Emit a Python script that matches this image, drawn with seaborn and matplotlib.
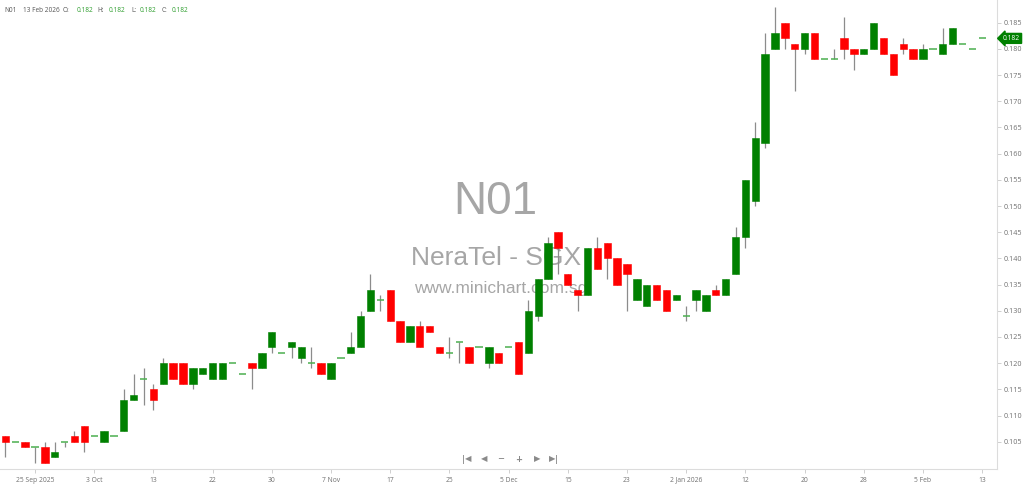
import numpy as np
import pandas as pd
import matplotlib
matplotlib.use("Agg")
import matplotlib.pyplot as plt
import matplotlib.transforms as mtransforms
import seaborn as sns

# ---------------- data ----------------
opens = [0.106, 0.105, 0.105, 0.104, 0.104, 0.102, 0.105, 0.106, 0.108, 0.106,
         0.105, 0.106, 0.107, 0.113, 0.117, 0.115, 0.116, 0.120, 0.120, 0.116,
         0.118, 0.117, 0.117, 0.120, 0.118, 0.120, 0.119, 0.123, 0.122, 0.123,
         0.121, 0.120, 0.120, 0.117, 0.121, 0.122, 0.123, 0.130, 0.132, 0.134,
         0.128, 0.124, 0.127, 0.127, 0.123, 0.122, 0.124, 0.123, 0.123, 0.120,
         0.122, 0.123, 0.124, 0.122, 0.129, 0.136, 0.145, 0.137, 0.134, 0.133,
         0.142, 0.143, 0.140, 0.139, 0.132, 0.131, 0.135, 0.134, 0.132, 0.129,
         0.132, 0.130, 0.134, 0.133, 0.137, 0.144, 0.151, 0.162, 0.180, 0.185,
         0.181, 0.180, 0.183, 0.178, 0.178, 0.182, 0.180, 0.179, 0.180, 0.182,
         0.179, 0.181, 0.180, 0.178, 0.180, 0.179, 0.181, 0.181, 0.180, 0.182]
closes = [0.105, 0.105, 0.104, 0.104, 0.101, 0.103, 0.105, 0.105, 0.105, 0.106,
          0.107, 0.106, 0.113, 0.114, 0.117, 0.113, 0.120, 0.117, 0.116, 0.119,
          0.119, 0.120, 0.120, 0.120, 0.118, 0.119, 0.122, 0.126, 0.122, 0.124,
          0.123, 0.120, 0.118, 0.120, 0.121, 0.123, 0.129, 0.134, 0.132, 0.128,
          0.124, 0.127, 0.123, 0.126, 0.122, 0.122, 0.124, 0.120, 0.123, 0.123,
          0.120, 0.123, 0.118, 0.130, 0.136, 0.143, 0.142, 0.135, 0.133, 0.142,
          0.138, 0.140, 0.135, 0.137, 0.136, 0.135, 0.132, 0.130, 0.133, 0.129,
          0.134, 0.133, 0.133, 0.136, 0.144, 0.155, 0.163, 0.179, 0.183, 0.182,
          0.180, 0.183, 0.178, 0.178, 0.178, 0.180, 0.179, 0.180, 0.185, 0.179,
          0.175, 0.180, 0.178, 0.180, 0.180, 0.181, 0.184, 0.181, 0.180, 0.182]
highs = [0.106, 0.105, 0.105, 0.104, 0.105, 0.105, 0.105, 0.107, 0.108, 0.106,
         0.107, 0.106, 0.115, 0.118, 0.119, 0.116, 0.121, 0.120, 0.120, 0.119,
         0.119, 0.120, 0.120, 0.120, 0.118, 0.120, 0.122, 0.126, 0.122, 0.124,
         0.123, 0.123, 0.120, 0.120, 0.121, 0.126, 0.130, 0.137, 0.133, 0.134,
         0.128, 0.127, 0.128, 0.127, 0.123, 0.125, 0.124, 0.123, 0.123, 0.123,
         0.122, 0.123, 0.124, 0.132, 0.136, 0.144, 0.145, 0.137, 0.134, 0.142,
         0.144, 0.143, 0.140, 0.139, 0.136, 0.135, 0.135, 0.134, 0.133, 0.131,
         0.134, 0.133, 0.135, 0.136, 0.146, 0.155, 0.166, 0.183, 0.188, 0.185,
         0.181, 0.183, 0.183, 0.178, 0.180, 0.186, 0.180, 0.180, 0.185, 0.182,
         0.179, 0.182, 0.180, 0.181, 0.180, 0.184, 0.184, 0.181, 0.180, 0.182]
lows = [0.102, 0.105, 0.104, 0.101, 0.101, 0.102, 0.104, 0.105, 0.103, 0.106,
        0.105, 0.106, 0.107, 0.113, 0.112, 0.111, 0.116, 0.117, 0.116, 0.115,
        0.118, 0.117, 0.117, 0.120, 0.118, 0.115, 0.119, 0.122, 0.122, 0.121,
        0.120, 0.119, 0.118, 0.117, 0.121, 0.122, 0.123, 0.130, 0.130, 0.128,
        0.124, 0.124, 0.123, 0.126, 0.122, 0.121, 0.120, 0.120, 0.123, 0.119,
        0.120, 0.123, 0.118, 0.122, 0.128, 0.136, 0.137, 0.135, 0.130, 0.133,
        0.138, 0.136, 0.135, 0.130, 0.132, 0.131, 0.132, 0.130, 0.132, 0.128,
        0.130, 0.130, 0.133, 0.133, 0.137, 0.142, 0.150, 0.161, 0.180, 0.180,
        0.172, 0.179, 0.178, 0.178, 0.178, 0.178, 0.176, 0.179, 0.180, 0.179,
        0.175, 0.179, 0.178, 0.178, 0.180, 0.179, 0.181, 0.181, 0.180, 0.182]

tick_bars = [3, 9, 15, 21, 27, 33, 39, 45, 51, 57, 63, 69, 75, 81, 87, 93, 99]
tick_labels = ["25 Sep 2025", "3 Oct", "13", "22", "30", "7 Nov", "17", "25",
               "5 Dec", "15", "23", "2 Jan 2026", "12", "20", "28", "5 Feb", "13"]
price_ticks = [0.105, 0.110, 0.115, 0.120, 0.125, 0.130, 0.135, 0.140, 0.145,
               0.150, 0.155, 0.160, 0.165, 0.170, 0.175, 0.180, 0.185]

# ---------------- style ----------------
sns.set_theme(style="white")
plt.rcParams['font.family'] = ['Open Sans', 'DejaVu Sans']

GREEN = '#008000'
RED = '#ff0000'
DOJI = '#4caf50'
WICK = '#8c8c8c'

df = pd.DataFrame({'o': opens, 'h': highs, 'l': lows, 'c': closes})
df['i'] = np.arange(len(df))
df['bottom'] = df[['o', 'c']].min(axis=1)
df['height'] = (df['c'] - df['o']).abs()
df['color'] = np.where(df['c'] >= df['o'], GREEN, RED)

W, H = 1024, 484
fig = plt.figure(figsize=(W / 100, H / 100), dpi=100)
ax = fig.add_axes([0, (H - 469) / H, 997 / W, 469 / H])

# wicks
ax.vlines(df['i'], df['l'], df['h'], color=WICK, lw=0.9, zorder=2)
# bodies
body = df[df['height'] > 1e-9]
ax.bar(body['i'], body['height'], bottom=body['bottom'], width=0.74,
       color=body['color'], edgecolor=body['color'], linewidth=0.4, zorder=3)
# doji dashes
doji = df[df['height'] <= 1e-9]
ax.hlines(doji['o'], doji['i'] - 0.37, doji['i'] + 0.37, color=DOJI, lw=1.1, zorder=3)

ax.set_xlim(-0.547, 100.5)
ax.set_ylim(0.09979, 0.18933)

# axes styling
for s in ['top', 'left']:
    ax.spines[s].set_visible(False)
ax.spines['right'].set_color('#dcdcdc')
ax.spines['bottom'].set_color('#dcdcdc')
ax.spines['right'].set_linewidth(0.8)
ax.spines['bottom'].set_linewidth(0.8)
ax.yaxis.tick_right()
ax.set_yticks(price_ticks)
ax.set_yticklabels([f"{p:.3f}" for p in price_ticks])
ax.set_xticks(tick_bars)
ax.set_xticklabels(tick_labels)
ax.tick_params(axis='y', which='both', right=True, direction='out', length=3,
               width=0.6, color='#c8c8c8', labelcolor='#707070', labelsize=5.2, pad=2)
ax.tick_params(axis='x', which='both', bottom=True, direction='out', length=3,
               width=0.6, color='#c8c8c8', labelcolor='#707070', labelsize=4.9, pad=2.5)
ax.grid(False)
ax.set_facecolor('white')

# watermark (behind candles)
ax.text(495 / W, 1 - 202 / H, 'N01', transform=fig.transFigure, ha='center', va='center',
        fontsize=33, color='#a6a6a6', family='Liberation Sans', zorder=1)
ax.text(496 / W, 1 - 258 / H, 'NeraTel - SGX', transform=fig.transFigure, ha='center',
        va='center', fontsize=19, color='#a6a6a6', family='Liberation Sans', zorder=1)
ax.text(501 / W, 1 - 289 / H, 'www.minichart.com.sg', transform=fig.transFigure,
        ha='center', va='center', fontsize=12.5, color='#a6a6a6', family='Liberation Sans',
        zorder=1)

# last price tag
trans = mtransforms.blended_transform_factory(ax.transAxes, ax.transData)
ax.text(1.006, closes[-1], f"{closes[-1]:.3f}", transform=trans, ha='left', va='center',
        color='white', fontsize=4.8, clip_on=False, zorder=5,
        bbox=dict(boxstyle='larrow,pad=0.22', fc=GREEN, ec=GREEN))

# header
hy = 1 - 10 / H
hdr = [(4, 'N01', '#555555'), (23, '13 Feb 2026', '#555555'), (63, 'O:', '#555555'),
       (77, '0.182', '#2e9e2e'), (97, 'H:', '#555555'), (109, '0.182', '#2e9e2e'),
       (131, 'L:', '#555555'), (140, '0.182', '#2e9e2e'), (162, 'C:', '#555555'),
       (172, '0.182', '#2e9e2e')]
for x, t, c in hdr:
    fig.text(x / W, hy, t, ha='left', va='center', fontsize=4.7, color=c)

# navigation icons
ny = 1 - 459 / H
nav = [(463.5, '|'), (468, '◀'), (484, '◀'), (501, '−'), (519, '+'), (537, '▶'),
       (552, '▶'), (556.5, '|')]
for x, t in nav:
    fig.text(x / W, ny, t, ha='center', va='center', fontsize=6, color='#8a8a8a',
             family='DejaVu Sans', fontweight='bold')

fig.savefig('out.png', dpi=100, facecolor='white')
